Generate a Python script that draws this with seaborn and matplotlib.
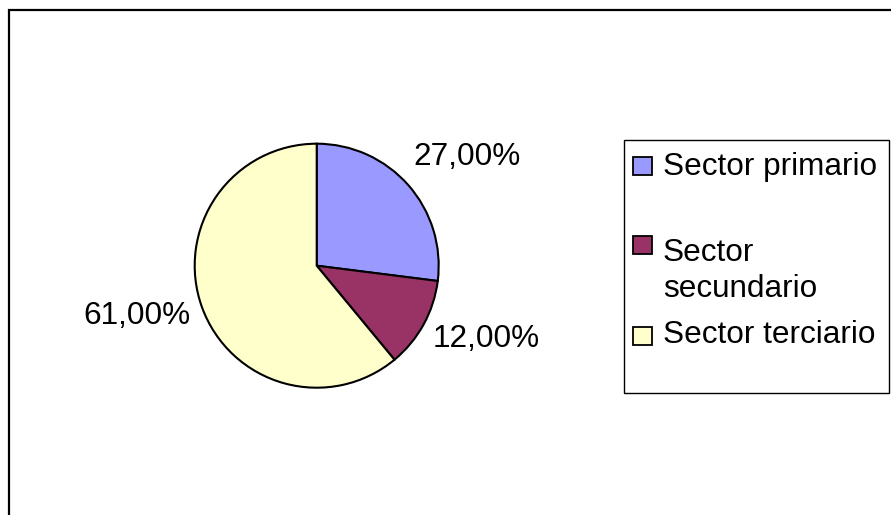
import matplotlib
matplotlib.use("Agg")
import matplotlib.pyplot as plt
from matplotlib.patches import Rectangle
import seaborn as sns

# ---- data ----
categories = ["Sector primario", "Sector secundario", "Sector terciario"]
legend_labels = ["Sector primario", "Sector\nsecundario", "Sector terciario"]
values = [27.0, 12.0, 61.0]
colors_hex = ["#9999FF", "#993366", "#FFFFCC"]

sns.set_theme(style="white")
plt.rcParams["font.family"] = ["Liberation Sans", "DejaVu Sans"]

W, H = 891, 515
fig = plt.figure(figsize=(W / 100, H / 100), dpi=100)
fig.patch.set_facecolor("white")

def fx(px):
    return px / W

def fy(py):
    return 1 - py / H

FS = 22.7

# outer chart border (extends past right/bottom edges)
fig.patches.append(Rectangle((fx(9), fy(520)), fx(895) - fx(9), fy(10) - fy(520),
                             transform=fig.transFigure, fill=False,
                             edgecolor="black", linewidth=1.6))

# pie axes
cx, cy, R = 316.7, 265.7, 122
ax = fig.add_axes([fx(cx - R), fy(cy + R), 2 * R / W, 2 * R / H])
palette = sns.color_palette(colors_hex)
fmt = lambda v: f"{v:.2f}".replace(".", ",") + "%"
pct_labels = [fmt(v) for v in values]
wedges, texts = ax.pie(values, colors=palette, startangle=90, counterclock=False,
                       labels=pct_labels, labeldistance=1.3,
                       wedgeprops=dict(edgecolor="black", linewidth=1.5),
                       textprops=dict(fontsize=FS, color="black"))
label_pos = [(1.236, 0.887), (1.392, -0.601), (-1.477, -0.412)]
for t, p in zip(texts, label_pos):
    t.set_position(p)
    t.set_ha("center")
    t.set_va("center")
ax.set_xlim(-1, 1)
ax.set_ylim(-1, 1)
ax.set_aspect("equal")
ax.axis("off")

# legend box
fig.patches.append(Rectangle((fx(624), fy(393)), fx(889) - fx(624), fy(140) - fy(393),
                             transform=fig.transFigure, fill=True, facecolor="white",
                             edgecolor="black", linewidth=1.0, zorder=1))
sq_tops = [157, 236, 327]
last_baselines = [175, 297, 343]
for lab, col, top, base in zip(legend_labels, palette, sq_tops, last_baselines):
    fig.patches.append(Rectangle((fx(633), fy(top + 18)), fx(652) - fx(633), fy(top) - fy(top + 18),
                                 transform=fig.transFigure, facecolor=col,
                                 edgecolor="black", linewidth=1.3, zorder=2))
    fig.text(fx(663), fy(base), lab, fontsize=FS, color="black",
             ha="left", va="baseline", linespacing=1.24, zorder=3)

fig.savefig("out.png", dpi=100)
